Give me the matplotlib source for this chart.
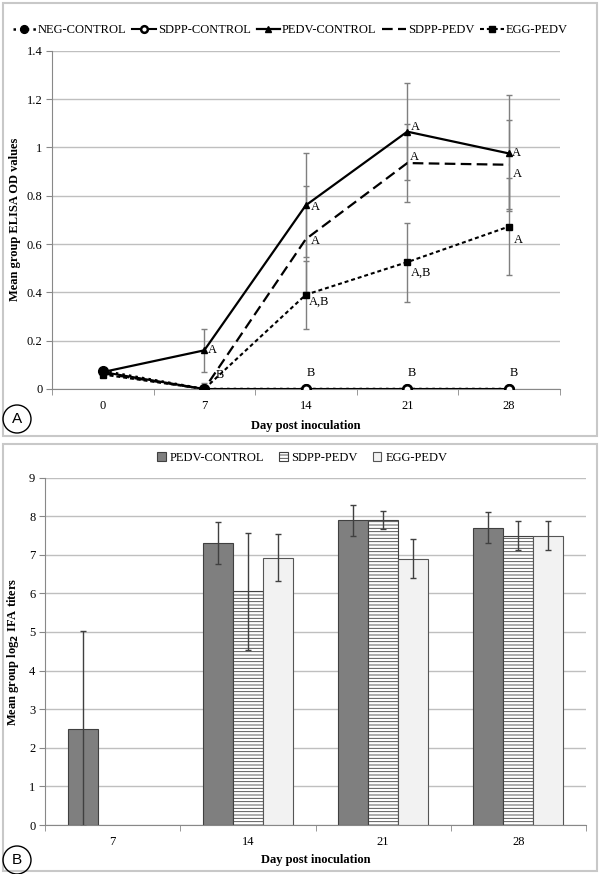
import numpy as np
import matplotlib
matplotlib.use('Agg')
import matplotlib.pyplot as plt
from matplotlib.patches import Rectangle, Ellipse

plt.rcParams['font.family'] = ['Liberation Serif', 'DejaVu Serif']
plt.rcParams['font.size'] = 9
plt.rcParams['hatch.linewidth'] = 0.6

# ---- datos panel A (ELISA) ----
dias_a = ['0', '7', '14', '21', '28']
neg_control = [0.075, 0.0, 0.0, 0.0, 0.0]
sdpp_control = [0.07, 0.0, 0.0, 0.0, 0.0]
pedv_control = [0.07, 0.16, 0.76, 1.065, 0.975]
pedv_control_err = [0.0, 0.09, 0.215, 0.2, 0.24]
sdpp_pedv = [0.065, 0.0, 0.62, 0.935, 0.928]
sdpp_pedv_err = [0.0, 0.025, 0.22, 0.16, 0.185]
egg_pedv = [0.06, 0.0, 0.39, 0.525, 0.672]
egg_pedv_err = [0.0, 0.0, 0.14, 0.163, 0.2]

letras_pedv = ['', 'A', 'A', 'A', 'A']
letras_sdpp = ['', '', 'A', 'A', 'A']
letras_egg = ['', '', 'A,B', 'A,B', 'A']
letras_neg = ['', 'B', 'B', 'B', 'B']

# ---- datos panel B (IFA) ----
dias_b = ['7', '14', '21', '28']
ifa_pedv_control = [2.5, 7.31, 7.9, 7.7]
ifa_pedv_control_err = [2.53, 0.54, 0.4, 0.4]
ifa_sdpp_pedv = [0.0, 6.05, 7.9, 7.5]
ifa_sdpp_pedv_err = [0.0, 1.52, 0.24, 0.37]
ifa_egg_pedv = [0.0, 6.92, 6.9, 7.5]
ifa_egg_pedv_err = [0.0, 0.61, 0.51, 0.37]

W, H = 600, 874
fig = plt.figure(figsize=(W / 100, H / 100), dpi=100)

def fx(px):
    return px / W

def fy(py):
    return 1 - py / H

grid_c = '#bfbfbf'
spine_c = '#888888'
err_c = '#7f7f7f'

# marcos de los paneles
fig.patches.append(Rectangle((fx(3), fy(436)), fx(594), 433 / H, transform=fig.transFigure,
                             fill=False, ec='#c8c8c8', lw=1.5))
fig.patches.append(Rectangle((fx(3), fy(871)), fx(594), 427 / H, transform=fig.transFigure,
                             fill=False, ec='#c8c8c8', lw=1.5))

# ================= PANEL A =================
axA = fig.add_axes([fx(52), fy(389), fx(559.5 - 52), (389 - 50.7) / H])
xa = np.arange(len(dias_a))

axA.errorbar(xa, pedv_control, yerr=pedv_control_err, fmt='none', ecolor=err_c,
             elinewidth=1, capsize=2, zorder=2)
axA.errorbar(xa, sdpp_pedv, yerr=sdpp_pedv_err, fmt='none', ecolor=err_c,
             elinewidth=1, capsize=2, zorder=2)
axA.errorbar(xa, egg_pedv, yerr=egg_pedv_err, fmt='none', ecolor=err_c,
             elinewidth=1, capsize=2, zorder=2)

l_neg, = axA.plot(xa, neg_control, color='black', ls=':', lw=1.8, marker='o',
                  ms=7, mfc='black', zorder=3, label='NEG-CONTROL')
l_sdc, = axA.plot(xa[1:], sdpp_control[1:], color='black', ls='-', lw=1.5, marker='o',
                  ms=6, mfc='white', mew=1.8, zorder=4, label='SDPP-CONTROL')
axA.plot(xa[:2], sdpp_control[:2], color='black', ls='-', lw=1.5, zorder=4)
l_pc, = axA.plot(xa, pedv_control, color='black', ls='-', lw=1.6, marker='^',
                 ms=5, zorder=5, label='PEDV-CONTROL')
l_sp, = axA.plot(xa, sdpp_pedv, color='black', lw=1.6, dashes=(4.8, 2.4),
                 zorder=5, label='SDPP-PEDV')
l_eg, = axA.plot(xa, egg_pedv, color='black', lw=1.5, dashes=(1.9, 1.4), marker='s',
                 ms=5, zorder=5, label='EGG-PEDV')

# letras de significancia
off_pedv = [(0, 0), (4, 0), (5, -2), (4, 5), (3, 0)]
off_sdpp = [(0, 0), (0, 0), (5, -2), (3, 6), (4, -9)]
off_egg = [(0, 0), (0, 0), (3, -7), (4, -11), (5, -13)]
for serie, letras, offs in [(pedv_control, letras_pedv, off_pedv),
                            (sdpp_pedv, letras_sdpp, off_sdpp),
                            (egg_pedv, letras_egg, off_egg)]:
    for i in range(len(xa)):
        if letras[i]:
            axA.annotate(letras[i], (xa[i], serie[i]), xytext=offs[i],
                         textcoords='offset pixels', ha='left', va='center', fontsize=9)
off_neg = [(0, 0), (16, 8), (5, 10), (5, 10), (5, 10)]
for i in range(len(xa)):
    if letras_neg[i]:
        axA.annotate(letras_neg[i], (xa[i], neg_control[i]), xytext=off_neg[i],
                     textcoords='offset pixels', ha='center', va='bottom', fontsize=9)

axA.set_xlim(-0.5, len(dias_a) - 0.5)
axA.set_ylim(0, 1.4)
axA.set_yticks(np.arange(0, 1.41, 0.2))
axA.set_yticklabels(['0', '0.2', '0.4', '0.6', '0.8', '1', '1.2', '1.4'])
axA.set_xticks(xa)
axA.set_xticklabels(dias_a)
axA.set_xticks(np.arange(-0.5, len(dias_a), 1), minor=True)
axA.tick_params(axis='x', which='major', length=0, pad=8)
axA.tick_params(axis='x', which='minor', length=4, color=spine_c)
axA.tick_params(axis='y', length=4, color=spine_c, pad=3)
axA.yaxis.grid(True, color=grid_c, lw=1)
axA.set_axisbelow(True)
for s in ['top', 'right']:
    axA.spines[s].set_visible(False)
for s in ['left', 'bottom']:
    axA.spines[s].set_color(spine_c)
axA.set_xlabel('Day post inoculation', fontweight='bold', labelpad=6)
axA.set_ylabel('Mean group ELISA OD values', fontweight='bold', labelpad=4)

fig.legend(handles=[l_neg, l_sdc, l_pc, l_sp, l_eg], loc='center', bbox_to_anchor=(fx(290), fy(30)),
           ncol=5, frameon=False, handlelength=1.9, handletextpad=0.15, columnspacing=0.45,
           fontsize=9, markerscale=0.8)

# ================= PANEL B =================
axB = fig.add_axes([fx(45), fy(825), fx(586 - 45), (825 - 477.6) / H])
xb = np.arange(len(dias_b))
ancho = 0.222

axB.bar(xb - ancho, ifa_pedv_control, ancho, color='#7f7f7f', edgecolor='#404040', lw=0.8,
        label='PEDV-CONTROL', zorder=2)
sd = [v if v > 0 else np.nan for v in ifa_sdpp_pedv]
eg = [v if v > 0 else np.nan for v in ifa_egg_pedv]
axB.bar(xb, sd, ancho, color='white', edgecolor='#404040', hatch='-----', lw=0.8,
        label='SDPP-PEDV', zorder=2)
axB.bar(xb + ancho, eg, ancho, color='#f2f2f2', edgecolor='#555555', lw=0.8,
        label='EGG-PEDV', zorder=2)

axB.errorbar(xb - ancho, ifa_pedv_control, yerr=ifa_pedv_control_err, fmt='none',
             ecolor='#404040', elinewidth=1, capsize=2, zorder=3)
axB.errorbar(xb, sd, yerr=ifa_sdpp_pedv_err, fmt='none',
             ecolor='#404040', elinewidth=1, capsize=2, zorder=3)
axB.errorbar(xb + ancho, eg, yerr=ifa_egg_pedv_err, fmt='none',
             ecolor='#404040', elinewidth=1, capsize=2, zorder=3)

axB.set_xlim(-0.5, len(dias_b) - 0.5)
axB.set_ylim(0, 9)
axB.set_yticks(range(0, 10))
axB.set_xticks(xb)
axB.set_xticklabels(dias_b)
axB.set_xticks(np.arange(-0.5, len(dias_b), 1), minor=True)
axB.tick_params(axis='x', which='major', length=0, pad=8)
axB.tick_params(axis='x', which='minor', length=4, color=spine_c)
axB.tick_params(axis='y', length=4, color=spine_c, pad=3)
axB.yaxis.grid(True, color=grid_c, lw=1)
axB.set_axisbelow(True)
for s in ['top', 'right']:
    axB.spines[s].set_visible(False)
for s in ['left', 'bottom']:
    axB.spines[s].set_color(spine_c)
axB.set_xlabel('Day post inoculation', fontweight='bold', labelpad=4)
axB.set_ylabel('Mean group log$_\\mathbf{2}$ IFA titers', fontweight='bold', labelpad=6)

hB, lB = axB.get_legend_handles_labels()
fig.legend(hB, lB, loc='center', bbox_to_anchor=(fx(302), fy(458)), ncol=3, frameon=False,
           handlelength=0.7, handleheight=0.7, handletextpad=0.3, columnspacing=1.2, fontsize=9)

# letras de panel en círculo
for (cx, cy, t) in [(17, 419, 'A'), (17, 860, 'B')]:
    fig.patches.append(Ellipse((fx(cx), fy(cy)), 28 / W, 28 / H, transform=fig.transFigure,
                               fill=False, ec='black', lw=1))
    fig.text(fx(cx), fy(cy), t, ha='center', va='center', fontsize=11,
             family=['Liberation Sans', 'DejaVu Sans'])

fig.savefig('out.png', dpi=100)
